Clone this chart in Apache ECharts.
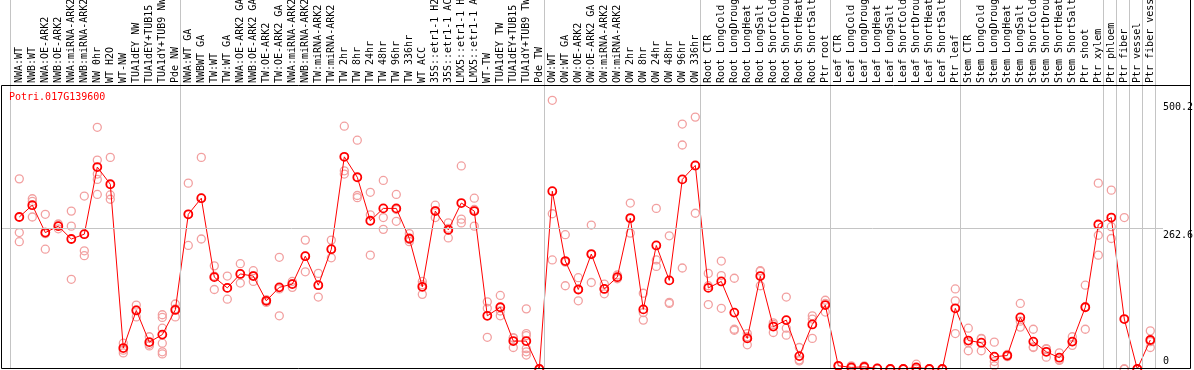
<!DOCTYPE html>
<html>
<head>
<meta charset="utf-8">
<script src="https://cdn.jsdelivr.net/npm/echarts@6/dist/echarts.min.js"></script>
<style>
html,body{margin:0;padding:0;background:#fff;}
#chart{width:1194px;height:370px;}
</style>
</head>
<body>
<div id="chart"></div>
<script>
const geneId = 'Potri.017G139600';
const categories = [
 'NWA:WT','NWB:WT','NWA:OE-ARK2','NWB:OE-ARK2','NWA:miRNA-ARK2','NWB:miRNA-ARK2','NW 0hr','WT H2O','WT-NW',
 'TUA1dEY NW','TUA1dEY+TUB15','TUA1dY+TUB9 NW','Pde NW',
 'NWA:WT GA','NWBWT GA','TW:WT','TW:WT GA','NWA:OE-ARK2 GA','NWB:OE-ARK2 GA','TW:OE-ARK2','TW:OE-ARK2 GA',
 'NWA:miRNA-ARK2','NWB:miRNA-ARK2','TW:miRNA-ARK2','TW:miRNA-ARK2','TW 2hr','TW 8hr','TW 24hr','TW 48hr','TW 96hr','TW 336hr',
 'WT ACC','35S::etr1-1 H2','35S::etr1-1 AC','LMX5::etr1-1 H','LMX5::etr1-1 A','WT-TW','TUA1dEY TW','TUA1dEY+TUB15','TUA1dY+TUB9 TW','Pde TW',
 'OW:WT','OW:WT GA','OW:OE-ARK2','OW:OE-ARK2 GA','OW:miRNA-ARK2','OW:miRNA-ARK2','OW 2hr','OW 8hr','OW 24hr','OW 48hr','OW 96hr','OW 336hr',
 'Root CTR','Root LongCold','Root LongDroug','Root LongHeat','Root LongSalt','Root ShortCold','Root ShortDrou','Root ShortHeat','Root ShortSalt','Ptr root',
 'Leaf CTR','Leaf LongCold','Leaf LongDroug','Leaf LongHeat','Leaf LongSalt','Leaf ShortCold','Leaf ShortDrou','Leaf ShortHeat','Leaf ShortSalt','Ptr leaf',
 'Stem CTR','Stem LongCold','Stem LongDroug','Stem LongHeat','Stem LongSalt','Stem ShortCold','Stem ShortDrou','Stem ShortHeat','Stem ShortSalt','Ptr shoot',
 'Ptr xylem','Ptr phloem','Ptr fiber','Ptr vessel','Ptr fiber vess'
];
const means = [
 283,305,254,266,242,251,376,344,39,109,50,64,110,
 288,318,171,151,177,173,127,152,158,210,156,223,395,357,276,299,299,243,
 153,294,259,309,294,99,115,52,52,0,
 331,201,148,214,149,171,281,111,230,165,353,379,
 151,163,105,57,173,79,91,24,83,119,
 6,3,4,1,0,0,3,0,0,113,
 53,49,23,25,96,51,32,21,51,115,
 269,282,93,0,54
];
const replicates = [
 [354,254,237],[317,312,283],[288,252,223],[270,266,261],[294,266,167],[322,220,211],
 [450,389,363,353,325],[394,324,316],[48,35,30],[119,110,97],[60,46,43],[101,96,76,48,32,28],[121,112,97],
 [346,288,230],[394,318,242],[192,173,148],[173,151,130],[196,177,160],[183,174,163],[129,127,124],[208,149,99],
 [163,159,152],[240,210,181],[178,156,134],[240,223,207],[452,369,363],[426,323,319],[329,287,212],[351,282,260],[325,297,275],[252,241,237],
 [163,157,139],[305,295,282],[272,262,244],[378,279,272],[318,297,266],[125,113,59],[137,108,99],[58,58,40],[112,66,62,38,32,26],[0,0,0],
 [500.2,289,203],[250,199,155],[170,148,127],[268,213,161],[158,149,140],[175,170,168],[309,280,253],[141,105,91],[299,203,191],[248,124,122],[456,417,188],[469,378,290],
 [178,155,120],[201,174,113],[169,74,72],[66,60,45],[183,182,155],[86,83,68],[134,76,63],[40,17,15],[99,93,57],[128,122,106],
 [6,5,5],[6,2,1],[6,4,2],[1,1,0],[0,0,0],[0,0,0],[9,0,0],[0,0,0],[0,0,0],[149,127,66],
 [76,49,34],[57,56,34],[50,14,6],[27,25,23],[122,89,78],[74,41,40],[38,37,22],[30,17,16],[60,51,44],[156,116,74],
 [346,249,212],[333,265,243],[282,0,0],[0,0,0],[71,51,40]
];
const separators = [-0.69, 12.38, 40.38, 52.38, 62.38, 72.38, 83.38, 84.38, 85.38, 86.38, 87.38];
const yTicks = [0, 262.6, 500.2];

const MONO = "'DejaVu Sans Mono', 'Liberation Mono', monospace";
const meanData = means.map((v, i) => [i, v]);
const repData = [];
replicates.forEach((arr, i) => arr.forEach(v => repData.push([i, v])));

const chart = echarts.init(document.getElementById('chart'), null, {renderer: 'canvas'});
chart.setOption({
  backgroundColor: '#ffffff',
  animation: false,
  title: {
    text: geneId, left: 9, top: 92, padding: 0,
    textStyle: {color: '#ff0000', fontFamily: MONO, fontSize: 10, fontWeight: 'normal'}
  },
  grid: {left: 1, right: 31, top: 0, bottom: 1, containLabel: false, outerBoundsMode: 'none'},
  xAxis: {
    type: 'value', position: 'top', offset: -84,
    min: -1.408, max: 87.977,
    axisLine: {show: false}, axisTick: {show: false}, splitLine: {show: false},
    axisLabel: {
      show: true, rotate: 90, margin: 1,
      customValues: categories.map((_, i) => i),
      formatter: v => categories[Math.round(v)] || '',
      fontFamily: MONO, fontSize: 10, color: '#000'
    }
  },
  yAxis: [
    {
      type: 'value', position: 'right', min: 0, max: 687,
      axisLine: {show: false}, axisTick: {show: false}, splitLine: {show: false},
      axisLabel: {
        customValues: yTicks.slice(1), margin: 0, align: 'left', verticalAlign: 'top',
        padding: [2, 0, 0, 0],
        formatter: v => String(v), fontFamily: MONO, fontSize: 10, color: '#000'
      }
    },
    {
      type: 'value', position: 'right', min: 0, max: 687,
      axisLine: {show: false}, axisTick: {show: false}, splitLine: {show: false},
      axisLabel: {
        customValues: yTicks.slice(0, 1), margin: 0, align: 'left', verticalAlign: 'bottom',
        padding: [0, 0, 3, 0],
        formatter: v => String(v), fontFamily: MONO, fontSize: 10, color: '#000'
      }
    }
  ],
  series: [
    {
      type: 'scatter', data: [], z: 1, silent: true,
      markLine: {
        silent: true, symbol: 'none', label: {show: false},
        lineStyle: {color: '#c4c4c4', width: 1, type: 'solid'},
        data: separators.map(s => ({xAxis: s})).concat([{yAxis: yTicks[1]}])
      }
    },
    {
      type: 'scatter', data: repData, z: 2, silent: true,
      symbol: 'circle', symbolSize: 8,
      itemStyle: {color: 'rgba(255,255,255,0)', borderColor: '#f2a0a0', borderWidth: 1.3, opacity: 1}
    },
    {
      type: 'line', data: meanData, z: 3, silent: true,
      symbol: 'circle', symbolSize: 8, showAllSymbol: true,
      lineStyle: {color: '#ff0000', width: 1},
      itemStyle: {color: 'rgba(255,255,255,0)', borderColor: '#ff0000', borderWidth: 1.8}
    }
  ],
  graphic: [
    {type: 'rect', silent: true, z: 100, shape: {x: 1.5, y: 85.5, width: 1189, height: 283},
     style: {fill: 'none', stroke: '#000', lineWidth: 1}},
    {type: 'line', silent: true, z: 100, shape: {x1: 1190.5, y1: 0, x2: 1190.5, y2: 86},
     style: {stroke: '#000', lineWidth: 1}}
  ]
});
</script>
</body>
</html>
